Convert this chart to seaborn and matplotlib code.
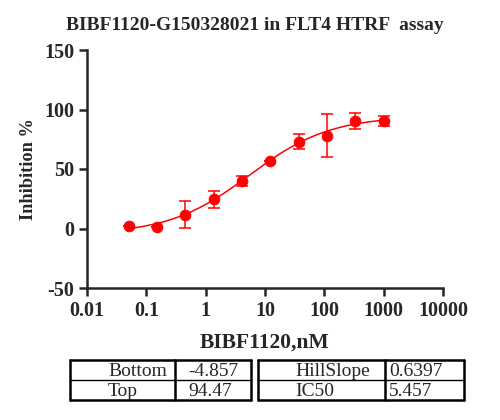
import numpy as np
import pandas as pd
import seaborn as sns
import matplotlib
matplotlib.use("Agg")
import matplotlib.pyplot as plt
from matplotlib.lines import Line2D

# measured points (3-fold dilution from 1000 nM)
conc = [0.0508, 0.152, 0.457, 1.37, 4.12, 12.3, 37.0, 111.0, 333.0, 1000.0]
inhib = [1.8, 1.0, 11.6, 24.5, 40.2, 57.0, 73.0, 78.0, 90.3, 90.6]
err = [0.0, 0.0, 11.4, 7.0, 4.2, 0.0, 6.0, 18.0, 6.7, 4.2]

# fitted 4PL parameters shown in the table
fit_names_left = ["Bottom", "Top"]
fit_vals_left = ["-4.857", "94.47"]
fit_names_right = ["HillSlope", "IC50"]
fit_vals_right = ["0.6397", "5.457"]
bottom, top, hill, ic50 = -4.857, 94.47, 0.6397, 5.457

sns.set_style("ticks")
plt.rcParams["font.family"] = ["Liberation Serif", "DejaVu Serif"]
plt.rcParams["axes.linewidth"] = 1.8
plt.rcParams["axes.unicode_minus"] = False

fig = plt.figure(figsize=(5, 4.2), dpi=100)
ax = fig.add_axes([87 / 500, 1 - 288 / 420, (443 - 87) / 500, (288 - 50) / 420])

xs = np.logspace(np.log10(conc[0]), np.log10(conc[-1]), 200)
curve = pd.DataFrame({"x": xs, "y": bottom + (top - bottom) / (1 + (ic50 / xs) ** hill)})
pts = pd.DataFrame({"x": conc, "y": inhib, "err": err})

sns.lineplot(data=curve, x="x", y="y", color="red", linewidth=1.1, ax=ax)
ax.errorbar(pts["x"], pts["y"], yerr=pts["err"], fmt="none", ecolor="red",
            elinewidth=1.1, capsize=4, capthick=1.1)
sns.scatterplot(data=pts, x="x", y="y", color="red", s=60, edgecolor="red", zorder=5, ax=ax)

ax.set_xscale("log")
ax.set_xlim(0.01, 10000)
ax.set_ylim(-50, 150)
ax.set_xticks([0.01, 0.1, 1, 10, 100, 1000, 10000])
ax.set_xticklabels(["0.01", "0.1", "1", "10", "100", "1000", "10000"])
ax.minorticks_off()
ax.set_yticks([-50, 0, 50, 100, 150])
ax.tick_params(axis="both", length=6, width=1.8, labelsize=14.5, pad=3)
for lab in ax.get_xticklabels() + ax.get_yticklabels():
    lab.set_fontweight("bold")
sns.despine(ax=ax)

ax.set_xlabel("BIBF1120,nM", fontsize=15.5, fontweight="bold", labelpad=9)
ax.set_ylabel("Inhibition %", fontsize=13.2, fontweight="bold", labelpad=5)
fig.text(255 / 500, 1 - 25 / 420, "BIBF1120-G150328021 in FLT4 HTRF  assay",
         ha="center", va="center", fontsize=14, fontweight="bold")


# parameter tables below the chart
def px(x, y):
    return x / 500, 1 - y / 420


def hline(x0, x1, y, lw):
    (a, b), (c, _) = px(x0, y), px(x1, y)
    fig.add_artist(Line2D([a, c], [b, b], color="black", lw=lw, transform=fig.transFigure))


def vline(x, y0, y1, lw):
    (a, b), (_, d) = px(x, y0), px(x, y1)
    fig.add_artist(Line2D([a, a], [b, d], color="black", lw=lw, transform=fig.transFigure))


def table(x0, xmid, x1, names, vals, name_x, val_x):
    y0, ym, y1 = 360, 380, 400
    hline(x0, x1, y0, 1.8)
    hline(x0, x1, y1, 1.8)
    hline(x0, x1, ym, 1.0)
    vline(x0, y0, y1, 1.8)
    vline(x1, y0, y1, 1.8)
    vline(xmid, y0, y1, 1.8)
    for i, (n, v) in enumerate(zip(names, vals)):
        yc = (y0 + ym) / 2 + 1 + i * (ym - y0)
        fig.text(*px(name_x, yc), n, ha="left", va="center", fontsize=14)
        fig.text(*px(val_x, yc), v, ha="left", va="center", fontsize=14)


table(70, 175, 251, fit_names_left, fit_vals_left, 108, 188)
table(258, 385, 464, fit_names_right, fit_vals_right, 295, 389)

fig.savefig("out.png", dpi=100)
